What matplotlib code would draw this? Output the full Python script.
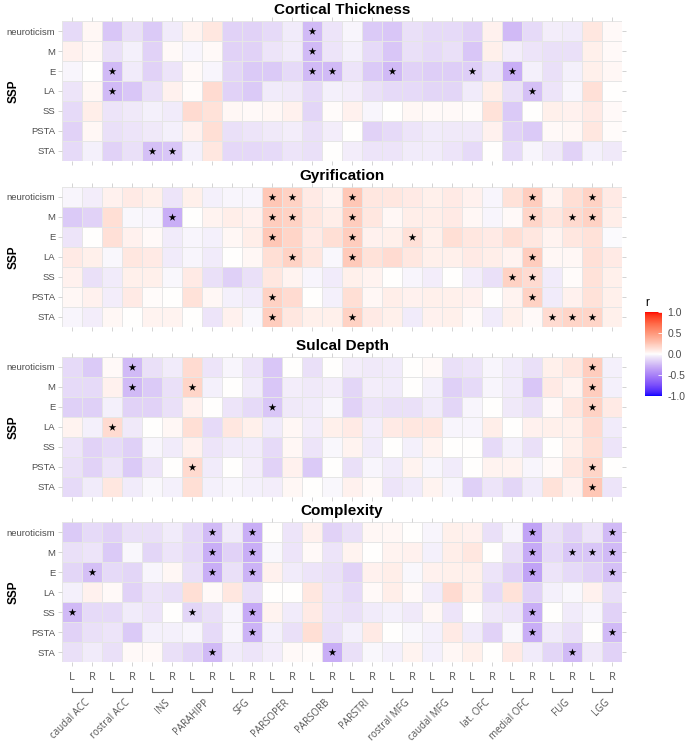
import numpy as np
import matplotlib
matplotlib.use("Agg")
import matplotlib.pyplot as plt
from matplotlib.colors import ListedColormap, Normalize, to_rgb
from matplotlib.cm import ScalarMappable

plt.rcParams["font.family"] = ["Liberation Sans", "DejaVu Sans"]
plt.rcParams["axes.unicode_minus"] = False

# data
regions = ["caudal ACC", "rostral ACC", "INS", "PARAHIPP", "SFG", "PARSOPER", "PARSORB",
           "PARSTRI", "rostral MFG", "caudal MFG", "lat. OFC", "medial OFC", "FUG", "LGG"]
hemis = ["L", "R"]
traits = ["neuroticism", "M", "E", "LA", "SS", "PSTA", "STA"]
titles = ["Cortical Thickness", "Gyrification", "Sulcal Depth", "Complexity"]

thickness = [
    [-0.12, 0.03, -0.2, -0.1, -0.18, -0.06, 0.04, 0.1, -0.15, -0.15, -0.12, -0.06, -0.25, -0.08, -0.03, -0.18, -0.2, -0.1, -0.12, -0.12, -0.15, 0.05, -0.25, -0.12, -0.05, -0.06, 0.1, 0.02],
    [0.05, 0.03, -0.1, -0.04, -0.15, 0.02, -0.03, 0.02, -0.15, -0.15, -0.08, -0.06, -0.25, -0.08, -0.04, -0.12, -0.2, -0.1, -0.12, -0.1, -0.2, 0.06, -0.05, -0.08, -0.1, -0.1, 0.06, 0.02],
    [-0.03, 0.0, -0.25, -0.06, -0.15, -0.08, 0.02, -0.03, -0.14, -0.18, -0.18, -0.12, -0.25, -0.25, -0.08, -0.18, -0.25, -0.15, -0.17, -0.17, -0.17, -0.08, -0.3, -0.04, -0.1, -0.04, 0.06, 0.03],
    [-0.08, 0.03, -0.25, -0.2, -0.1, 0.05, 0.01, 0.15, -0.15, -0.18, -0.06, -0.07, -0.12, -0.04, -0.05, -0.1, -0.12, -0.12, -0.14, -0.14, -0.06, 0.07, -0.1, -0.22, -0.08, -0.03, 0.13, 0.0],
    [-0.12, 0.07, -0.08, -0.07, -0.04, -0.06, 0.15, 0.12, 0.03, 0.02, 0.03, 0.05, -0.14, 0.01, 0.05, -0.03, 0.0, 0.03, 0.02, 0.02, 0.01, 0.12, -0.18, 0.0, 0.06, 0.05, 0.08, 0.02],
    [-0.15, 0.03, -0.1, -0.08, -0.07, -0.04, 0.05, 0.14, -0.1, -0.08, -0.07, -0.05, -0.1, -0.05, 0.0, -0.15, -0.12, -0.08, -0.06, -0.07, -0.07, 0.05, -0.15, -0.18, 0.02, 0.03, 0.1, 0.01],
    [-0.12, -0.04, -0.15, -0.1, -0.22, -0.2, -0.04, 0.1, -0.13, -0.13, -0.12, -0.08, -0.1, 0.0, -0.05, -0.08, -0.08, -0.06, -0.06, -0.08, -0.12, 0.0, -0.12, -0.03, -0.07, -0.15, -0.04, -0.07],
]
gyrification = [
    [-0.03, -0.05, 0.05, 0.08, 0.06, -0.08, 0.06, -0.04, -0.03, -0.03, 0.25, 0.2, 0.08, 0.04, 0.25, 0.1, 0.1, 0.08, 0.06, 0.08, 0.05, -0.03, 0.12, 0.22, 0.04, 0.14, 0.2, 0.08],
    [-0.18, -0.15, 0.14, -0.02, -0.03, -0.3, 0.0, 0.04, 0.07, 0.05, 0.22, 0.2, 0.1, 0.07, 0.22, 0.1, 0.03, 0.07, 0.07, 0.08, 0.03, -0.03, 0.02, 0.18, 0.1, 0.16, 0.2, 0.07],
    [-0.08, 0.0, 0.13, 0.05, 0.02, -0.06, -0.03, -0.04, 0.03, 0.07, 0.25, 0.18, 0.08, 0.14, 0.22, 0.05, 0.06, 0.13, 0.06, 0.14, 0.1, 0.08, 0.14, 0.1, 0.04, 0.1, 0.12, -0.01],
    [0.08, 0.06, -0.02, 0.1, 0.08, -0.06, -0.03, -0.06, 0.0, 0.03, 0.14, 0.2, 0.1, -0.02, 0.24, 0.12, 0.15, 0.1, 0.06, 0.06, 0.08, 0.07, 0.04, 0.22, 0.03, 0.03, 0.13, 0.08],
    [0.05, -0.1, -0.06, 0.06, 0.06, -0.02, 0.08, -0.1, -0.16, -0.1, 0.1, 0.04, -0.03, -0.06, 0.06, 0.04, 0.0, -0.03, -0.05, 0.0, -0.05, -0.1, 0.2, 0.15, -0.06, 0.01, 0.12, 0.06],
    [0.03, 0.05, -0.05, 0.08, 0.01, 0.0, 0.12, 0.03, -0.04, -0.06, 0.2, 0.15, 0.0, -0.04, 0.14, 0.03, 0.07, 0.05, 0.06, 0.06, 0.05, 0.0, 0.04, 0.2, -0.06, 0.05, 0.12, 0.06],
    [-0.03, -0.05, 0.03, 0.0, 0.04, 0.04, 0.0, -0.08, 0.05, -0.02, 0.22, 0.1, 0.06, 0.06, 0.2, 0.08, 0.06, -0.06, 0.05, 0.06, 0.02, -0.06, 0.06, 0.02, 0.15, 0.18, 0.18, 0.06],
]
sulcal_depth = [
    [-0.12, -0.18, 0.02, -0.25, -0.1, -0.06, 0.15, -0.08, -0.03, -0.08, -0.2, 0.0, -0.1, 0.0, -0.05, -0.07, -0.06, 0.0, 0.02, -0.1, -0.08, -0.03, -0.06, -0.1, 0.06, 0.1, 0.22, -0.04],
    [-0.12, -0.12, 0.05, -0.25, -0.18, -0.1, 0.18, -0.04, 0.0, -0.06, -0.2, -0.05, -0.07, -0.05, -0.14, -0.05, -0.06, 0.0, -0.04, -0.16, -0.12, -0.03, -0.06, -0.2, 0.08, 0.04, 0.22, -0.04],
    [-0.16, -0.16, -0.04, -0.15, -0.15, -0.1, 0.05, 0.0, -0.08, -0.12, -0.2, -0.07, -0.06, -0.02, -0.15, -0.08, -0.1, -0.1, -0.06, -0.14, -0.03, 0.0, -0.07, -0.1, 0.02, 0.1, 0.2, 0.08],
    [0.04, -0.04, 0.15, -0.07, 0.0, 0.03, 0.14, -0.12, 0.1, 0.06, -0.06, 0.03, -0.05, 0.06, 0.08, -0.05, 0.08, 0.1, 0.1, -0.03, -0.03, 0.07, 0.0, 0.05, 0.06, 0.06, 0.15, -0.06],
    [-0.08, -0.15, -0.12, -0.16, -0.03, -0.06, 0.05, -0.08, -0.06, -0.06, -0.12, 0.03, -0.08, -0.02, 0.04, -0.06, 0.0, -0.04, 0.04, 0.0, 0.0, -0.12, -0.04, -0.1, 0.0, 0.06, 0.14, -0.08],
    [-0.1, -0.15, -0.08, -0.18, -0.08, 0.0, 0.16, -0.06, 0.0, -0.05, -0.15, 0.05, -0.18, 0.0, -0.1, -0.03, -0.06, 0.04, -0.03, -0.06, 0.0, 0.04, 0.04, -0.03, 0.02, 0.1, 0.18, 0.0],
    [-0.12, -0.06, 0.1, -0.06, -0.02, -0.04, 0.14, -0.04, -0.03, -0.04, -0.05, 0.03, 0.0, -0.02, 0.05, 0.02, -0.08, -0.06, 0.04, -0.03, -0.16, -0.08, -0.14, -0.06, 0.12, 0.05, 0.25, -0.08],
]
complexity = [
    [-0.18, -0.12, -0.15, -0.1, -0.1, -0.06, -0.12, -0.25, -0.06, -0.3, 0.0, -0.08, 0.05, -0.15, -0.1, 0.03, 0.03, 0.0, -0.03, 0.06, 0.05, -0.1, -0.03, -0.35, -0.1, -0.15, -0.08, -0.25],
    [-0.1, -0.08, -0.18, -0.02, -0.14, -0.08, -0.12, -0.3, -0.15, -0.3, -0.02, -0.08, 0.02, -0.08, 0.04, 0.0, 0.04, 0.05, -0.04, 0.07, 0.1, 0.0, -0.1, -0.32, -0.12, -0.2, -0.2, -0.25],
    [-0.14, -0.22, -0.12, -0.14, -0.03, 0.03, -0.1, -0.3, -0.1, -0.28, 0.05, -0.06, -0.08, -0.1, -0.15, 0.05, 0.07, -0.02, 0.05, 0.06, 0.06, -0.08, -0.15, -0.35, -0.08, -0.12, -0.15, -0.22],
    [-0.04, 0.05, 0.02, -0.15, -0.08, -0.1, 0.14, 0.02, 0.1, -0.1, 0.0, 0.0, 0.1, -0.08, -0.12, 0.02, 0.07, 0.02, -0.06, 0.15, 0.06, -0.12, 0.12, -0.15, -0.04, -0.02, 0.05, -0.1],
    [-0.25, -0.12, -0.12, -0.06, -0.08, 0.0, -0.14, -0.1, -0.03, -0.32, 0.04, -0.06, 0.08, -0.08, -0.1, -0.06, -0.04, -0.07, 0.03, -0.08, 0.0, -0.07, -0.08, -0.3, 0.0, -0.06, -0.03, -0.15],
    [-0.15, -0.1, -0.08, -0.18, -0.04, -0.04, -0.03, -0.12, -0.03, -0.28, -0.04, -0.1, 0.14, -0.1, -0.04, 0.08, 0.0, -0.02, -0.04, 0.08, -0.06, -0.15, -0.02, -0.3, -0.06, -0.1, 0.0, -0.25],
    [-0.1, -0.06, -0.1, 0.02, 0.02, -0.1, -0.14, -0.25, -0.06, -0.08, -0.05, 0.02, 0.01, -0.3, -0.1, -0.02, -0.04, 0.04, -0.04, 0.03, 0.06, 0.0, 0.08, -0.06, -0.14, -0.25, -0.07, -0.15],
]

# significant cells: column indices per trait row
thickness_sig = [[12], [12], [2, 12, 13, 16, 20, 22], [2, 23], [], [], [4, 5]]
gyrification_sig = [[10, 11, 14, 23, 26], [5, 10, 11, 14, 23, 25, 26], [10, 14, 17], [11, 14, 23],
                    [22, 23], [10, 23], [10, 14, 24, 25, 26]]
sulcal_sig = [[3, 26], [3, 6, 26], [10, 26], [2], [], [6, 26], [26]]
complexity_sig = [[7, 9, 23, 27], [7, 9, 23, 25, 26, 27], [1, 7, 9, 23, 27], [], [0, 6, 9, 23],
                  [9, 23, 27], [7, 13, 25]]

panels = [thickness, gyrification, sulcal_depth, complexity]
sigs = [thickness_sig, gyrification_sig, sulcal_sig, complexity_sig]


# blue - white - red gradient built in Lab space
WHITE_PT = np.array([0.95047, 1.0, 1.08883])
M_RGB2XYZ = np.array([[0.4124, 0.3576, 0.1805], [0.2126, 0.7152, 0.0722], [0.0193, 0.1192, 0.9505]])


def to_lab(c):
    rgb = np.array(to_rgb(c))
    lin = np.where(rgb <= 0.04045, rgb / 12.92, ((rgb + 0.055) / 1.055) ** 2.4)
    xyz = M_RGB2XYZ @ lin / WHITE_PT
    f = np.where(xyz > 0.008856, np.cbrt(xyz), 7.787 * xyz + 16 / 116)
    return np.array([116 * f[1] - 16, 500 * (f[0] - f[1]), 200 * (f[1] - f[2])])


def from_lab(lab):
    fy = (lab[0] + 16) / 116
    f = np.array([fy + lab[1] / 500, fy, fy - lab[2] / 200])
    xyz = np.where(f ** 3 > 0.008856, f ** 3, (f - 16 / 116) / 7.787) * WHITE_PT
    lin = np.linalg.solve(M_RGB2XYZ, xyz)
    lin = np.clip(lin, 0, None)
    rgb = np.where(lin <= 0.0031308, 12.92 * lin, 1.055 * lin ** (1 / 2.4) - 0.055)
    return np.clip(rgb, 0, 1)


lab_lo, lab_mid, lab_hi = to_lab("blue"), to_lab("white"), to_lab("red")
cols = []
for v in np.linspace(-1, 1, 256):
    end = lab_lo if v < 0 else lab_hi
    t = abs(v)
    L = lab_mid[0] + (end[0] - lab_mid[0]) * t ** 0.85
    ab = end[1:] * t
    cols.append(from_lab(np.array([L, ab[0], ab[1]])))
cmap = ListedColormap(cols)
norm = Normalize(-1, 1)

W, H = 685, 744
fig = plt.figure(figsize=(W / 100, H / 100), dpi=100)


def add_ax(x0, y0, w, h):
    return fig.add_axes([x0 / W, 1 - (y0 + h) / H, w / W, h / H])


tops = [21, 187, 357, 522]
ncol = len(regions) * len(hemis)
axes = []
for k, (vals, sig, title) in enumerate(zip(panels, sigs, titles)):
    ax = add_ax(62, tops[k], 560, 140)
    arr = np.array(vals)
    ax.pcolormesh(np.arange(ncol + 1), np.arange(len(traits) + 1), arr, cmap=cmap, norm=norm,
                  edgecolors="#E6E6E6", linewidth=0.5)
    sx = [c + 0.5 for r, row in enumerate(sig) for c in row]
    sy = [r + 0.5 for r, row in enumerate(sig) for c in row]
    ax.scatter(sx, sy, marker="*", s=34, color="black", linewidths=0, zorder=3)
    ax.set_xlim(0, ncol)
    ax.set_ylim(len(traits), 0)
    ax.set_yticks(np.arange(len(traits)) + 0.5)
    ax.set_yticklabels(traits, fontsize=6.8, color="#4D4D4D")
    ax.set_xticks(np.arange(ncol) + 0.5)
    ax.set_xticklabels([])
    ax.tick_params(length=3, width=0.6, color="#CCCCCC", pad=2,
                   top=True, right=True)
    for s in ax.spines.values():
        s.set_visible(False)
    ax.set_title(title, fontsize=11, fontweight="bold", pad=5)
    fig.text(14 / W, 1 - (tops[k] + 70) / H, "SSP", rotation=90, fontsize=8.5,
             fontweight="bold", ha="center", va="center")
    axes.append(ax)

# bottom axis: L/R labels, brackets, region names
axb = axes[-1]
axb.set_xticklabels(hemis * len(regions), fontsize=8, color="#5A5A5A", family="Open Sans")
axb.tick_params(axis="x", pad=4)
trans = axb.get_xaxis_transform()
for k, name in enumerate(regions):
    xl, xr = 2 * k + 0.5, 2 * k + 1.5
    axb.plot([xl, xl, xr, xr], [-0.186, -0.214, -0.214, -0.186], transform=trans,
             color="#666666", lw=0.8, clip_on=False)
    axb.text(2 * k + 1.1, -0.25, name, transform=trans, rotation=45, ha="right", va="top",
             rotation_mode="anchor", fontsize=7, color="#555555", family="Open Sans")

# colorbar
cax = add_ax(645, 312, 17, 84)
cb = fig.colorbar(ScalarMappable(norm=norm, cmap=cmap), cax=cax, ticks=[-1, -0.5, 0, 0.5, 1])
cb.outline.set_visible(False)
cb.ax.set_yticklabels(["-1.0", "-0.5", "0.0", "0.5", "1.0"], fontsize=7.5, color="#4D4D4D")
cb.ax.tick_params(length=3, color="white", width=0.6, direction="in", pad=4)
cb.ax.set_title("r", fontsize=8.5, loc="left", pad=4)

fig.savefig("out.png", dpi=100)
